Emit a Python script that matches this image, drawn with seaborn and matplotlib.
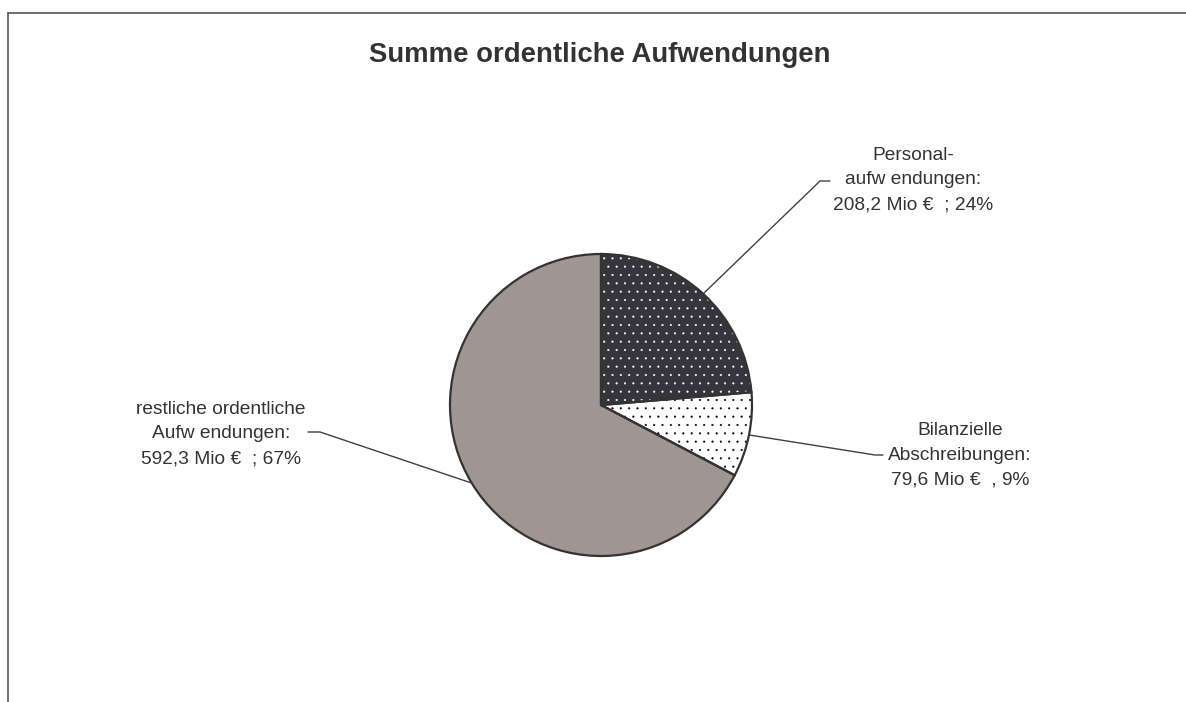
import numpy as np
import matplotlib
matplotlib.use("Agg")
import matplotlib.pyplot as plt
from matplotlib.lines import Line2D
from matplotlib.patches import Wedge
import seaborn as sns

# Daten
titel = "Summe ordentliche Aufwendungen"
kategorien = ["Personal-\naufw endungen:", "Bilanzielle\nAbschreibungen:", "restliche ordentliche\nAufw endungen:"]
werte = [208.2, 79.6, 592.3]  # Mio €
prozent_labels = ["24%", "9%", "67%"]
trenner = [";", ",", ";"]

farben = ["#36353b", "#ffffff", "#a09590"]
punkt_farben = ["white", "black", None]

sns.set_style("white")
plt.rcParams["font.family"] = ["Liberation Sans", "DejaVu Sans"]
plt.rcParams["hatch.linewidth"] = 0.3

W, H, DPI = 1186, 702, 100
fig = plt.figure(figsize=(W / DPI, H / DPI), dpi=DPI)
ax = fig.add_axes([0, 0, 1, 1])

# Pixel -> Daten (Mittelpunkt 601/405, Radius 151 px)
cx, cy, r = 601, 405, 151
def px(x, y):
    return (x - cx) / r, (cy - y) / r

wedges, _ = ax.pie(werte, colors=farben, startangle=90, counterclock=False,
                   radius=1, wedgeprops=dict(edgecolor="none", linewidth=0))

# Punktmuster ueber die Segmente legen
for w, pc in zip(wedges, punkt_farben):
    w.set_zorder(1)
    if pc is None:
        continue
    h = Wedge(w.center, w.r, w.theta1, w.theta2, facecolor="none",
              edgecolor=pc, linewidth=0, hatch="..", zorder=2)
    ax.add_patch(h)
# Randlinien drueber
for w in wedges:
    rand = Wedge(w.center, w.r, w.theta1, w.theta2, facecolor="none",
                 edgecolor="#333333", linewidth=1.6, zorder=3)
    ax.add_patch(rand)

ax.set_xlim(px(0, 0)[0], px(W, 0)[0])
ax.set_ylim(px(0, H)[1], px(0, 0)[1])
ax.set_aspect("auto")
ax.axis("off")

# Beschriftungen mit Fuehrungslinien
text_pos = [(913, 180), (960, 455), (221, 434)]
knick = [(820, 181), (875, 455), (320, 432)]
ende = [(830, 181), (883, 455), (308, 432)]
for i, w in enumerate(wedges):
    mitte = np.deg2rad((w.theta1 + w.theta2) / 2)
    p0 = (np.cos(mitte), np.sin(mitte))
    p1 = px(*knick[i])
    p2 = px(*ende[i])
    ax.plot([p0[0], p1[0], p2[0]], [p0[1], p1[1], p2[1]], color="#404040", lw=1, zorder=4)
    wert_txt = f"{werte[i]:.1f}".replace(".", ",")
    txt = f"{kategorien[i]}\n{wert_txt} Mio €  {trenner[i]} {prozent_labels[i]}"
    tx, ty = px(*text_pos[i])
    ax.text(tx, ty, txt, ha="center", va="center", multialignment="center",
            fontsize=13.8, color="#333333", linespacing=1.6)

fig.text(0.506, 1 - 55 / H, titel, ha="center", va="center",
         fontsize=19.8, fontweight="bold", color="#333333")

# Rahmen (links und oben)
fig.add_artist(Line2D([8 / W, 8 / W], [0, 1 - 13 / H], color="#555555", lw=1.2))
fig.add_artist(Line2D([8 / W, 1], [1 - 13 / H, 1 - 13 / H], color="#555555", lw=1.2))

fig.savefig("out.png", dpi=DPI)
